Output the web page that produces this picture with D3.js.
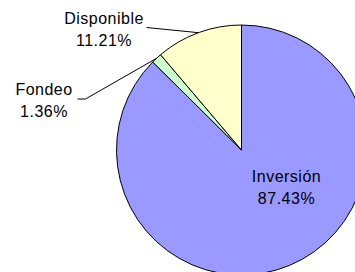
<!DOCTYPE html>
<html>
<head>
<meta charset="utf-8">
<script src="https://cdn.jsdelivr.net/npm/d3@7"></script>
<style>
  body { margin: 0; background: #fff; }
  svg { display: block; }
  text { font-family: "Liberation Sans", Arial, sans-serif; font-size: 16px; fill: #000; letter-spacing: 0.5px; }
</style>
</head>
<body>
<script>
// slice data, clockwise from 12 o'clock
const categories = ["Inversión", "Fondeo", "Disponible"];
const shares = [87.43, 1.36, 11.21];
const colors = ["#9999ff", "#ccffcc", "#ffffcc"];

const width = 355, height = 272;
const cx = 241.5, cy = 150, radius = 125;

const svg = d3.select("body").append("svg")
    .attr("width", width)
    .attr("height", height);

const g = svg.append("g")
    .attr("transform", "translate(" + cx + "," + cy + ")");

const pie = d3.pie().sort(null).value(d => d.value);
const arc = d3.arc().innerRadius(0).outerRadius(radius);

const data = categories.map((c, i) => ({ name: c, value: shares[i], color: colors[i] }));
const arcs = pie(data);

g.selectAll("path.slice")
    .data(arcs)
    .enter().append("path")
    .attr("class", "slice")
    .attr("d", arc)
    .style("fill", d => d.data.color)
    .style("stroke", "#000")
    .style("stroke-width", 1)
    .style("stroke-linejoin", "miter");

// label placement (relative to the pie centre)
const labelPos = {
    "Inversión": { x: 45, y: 32, leader: null },
    "Fondeo": { x: -197.5, y: -55, leader: [[-164, -51], [-156, -51]] },
    "Disponible": { x: -137.5, y: -126, leader: [[-95, -122.5]] }
};

const fmt = v => v.toFixed(2) + "%";

for (const d of arcs) {
    const p = labelPos[d.data.name];
    if (p.leader) {
        const mid = (d.startAngle + d.endAngle) / 2;
        const edge = [radius * Math.sin(mid), -radius * Math.cos(mid)];
        const pts = p.leader.concat([edge]);
        g.append("path")
            .attr("d", d3.line()(pts))
            .style("fill", "none")
            .style("stroke", "#000")
            .style("stroke-width", 1);
    }
    const t = g.append("text")
        .attr("text-anchor", "middle");
    t.append("tspan").attr("x", p.x).attr("y", p.y).text(d.data.name);
    t.append("tspan").attr("x", p.x).attr("y", p.y + 22).text(fmt(d.data.value));
}
</script>
</body>
</html>
